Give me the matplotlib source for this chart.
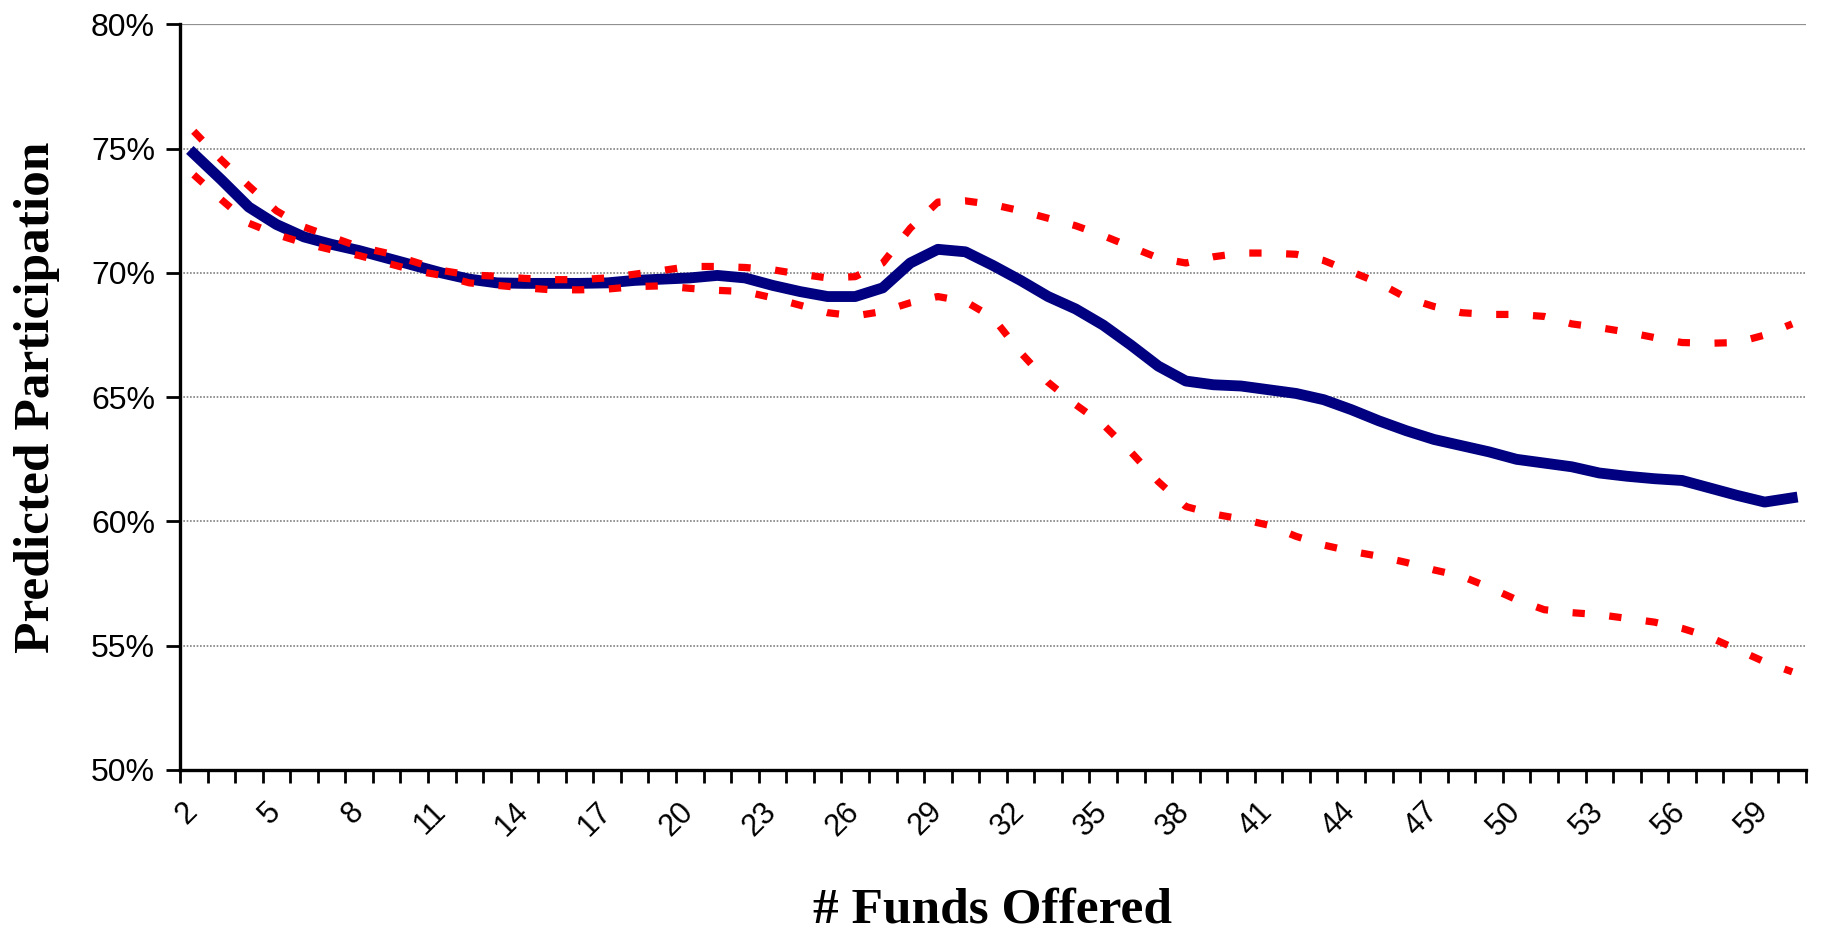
import numpy as np
import matplotlib
matplotlib.use("Agg")
import matplotlib.pyplot as plt
from matplotlib.ticker import FixedLocator, FuncFormatter
from matplotlib.transforms import ScaledTranslation

# number of funds offered (categories)
funds = np.arange(2, 61)

# predicted participation, %
predicted = [74.8, 73.75, 72.65, 71.95, 71.45, 71.15, 70.9, 70.6, 70.3, 70.0,
             69.75, 69.6, 69.58, 69.58, 69.58, 69.6, 69.7, 69.75, 69.8, 69.9,
             69.8, 69.5, 69.25, 69.05, 69.05, 69.4, 70.4, 70.95, 70.85, 70.3,
             69.7, 69.05, 68.55, 67.9, 67.1, 66.25, 65.65, 65.5, 65.45, 65.3,
             65.15, 64.9, 64.5, 64.05, 63.65, 63.3, 63.05, 62.8, 62.5, 62.35,
             62.2, 61.95, 61.82, 61.72, 61.65, 61.35, 61.05, 60.78, 60.95]

# upper bound
upper = [75.7, 74.55, 73.5, 72.5, 71.85, 71.45, 71.05, 70.8, 70.45, 70.1,
         69.92, 69.87, 69.78, 69.73, 69.73, 69.8, 69.95, 70.1, 70.26, 70.26,
         70.22, 70.13, 69.95, 69.8, 69.85, 70.4, 71.8, 72.85, 72.9, 72.75,
         72.5, 72.2, 71.9, 71.5, 71.05, 70.6, 70.4, 70.65, 70.8, 70.8,
         70.75, 70.5, 70.05, 69.6, 69.0, 68.65, 68.4, 68.33, 68.33, 68.25,
         67.95, 67.8, 67.62, 67.4, 67.2, 67.17, 67.2, 67.5, 67.95]

# lower bound
lower = [73.95, 72.95, 72.0, 71.55, 71.2, 70.93, 70.7, 70.4, 70.1, 69.9,
         69.6, 69.5, 69.4, 69.32, 69.32, 69.35, 69.45, 69.48, 69.38, 69.3,
         69.25, 69.0, 68.7, 68.4, 68.27, 68.45, 68.8, 69.05, 68.85, 68.2,
         66.8, 65.6, 64.7, 63.9, 62.8, 61.6, 60.6, 60.3, 60.1, 59.85,
         59.4, 59.05, 58.8, 58.6, 58.35, 58.05, 57.8, 57.35, 56.85, 56.45,
         56.33, 56.25, 56.1, 55.95, 55.7, 55.35, 54.85, 54.35, 53.95]

yticks = [50, 55, 60, 65, 70, 75, 80]
xlabels = [2, 5, 8, 11, 14, 17, 20, 23, 26, 29, 32, 35, 38, 41, 44, 47, 50, 53, 56, 59]

plt.rcParams['font.family'] = ['Liberation Sans', 'DejaVu Sans']

fig = plt.figure(figsize=(18.27, 9.39), dpi=100)
ax = fig.add_axes([0.0985, 0.180, 0.89, 0.794])

ax.plot(funds, predicted, color='#000080', lw=7.8, solid_joinstyle='round', zorder=3)
for band in (upper, lower):
    ax.plot(funds, band, color='#FF0000', lw=5.2, linestyle=(0, (1.7, 3.4)),
            dash_capstyle='butt', zorder=4)

ax.set_xlim(1.5, 60.5)
ax.set_ylim(50, 80)

# y axis
ax.set_yticks(yticks)
ax.yaxis.set_major_formatter(FuncFormatter(lambda v, p: '{:d}%'.format(int(v))))
ax.tick_params(axis='y', direction='out', length=10, width=2, labelsize=23, pad=8)
for y in yticks[1:-1]:
    ax.axhline(y, color='#808080', lw=1.2, linestyle=(0, (1, 1)), zorder=1)
ax.axhline(80, color='#909090', lw=1.6, zorder=1)

# x axis: labels at category centres, ticks at category boundaries
ax.xaxis.set_major_locator(FixedLocator(xlabels))
ax.set_xticklabels([str(v) for v in xlabels], rotation=45, ha='right', va='top',
                   rotation_mode='anchor', fontsize=22)
ax.tick_params(axis='x', which='major', length=0, pad=19)
ax.xaxis.set_minor_locator(FixedLocator(np.arange(1.5, 61, 1)))
ax.tick_params(axis='x', which='minor', direction='out', length=9, width=2)
shift = ScaledTranslation(-8 / 72, 0, fig.dpi_scale_trans)
for lab in ax.get_xticklabels():
    lab.set_transform(lab.get_transform() + shift)

for s in ('top', 'right'):
    ax.spines[s].set_visible(False)
ax.spines['left'].set_linewidth(2.4)
ax.spines['bottom'].set_linewidth(2.4)

ax.set_ylabel('Predicted Participation', family=['Liberation Serif'],
              fontsize=37, fontweight='bold', labelpad=22)
ax.set_xlabel('# Funds Offered', family=['Liberation Serif'],
              fontsize=37, fontweight='bold', labelpad=33)

fig.savefig('out.png', dpi=100, facecolor='white')
